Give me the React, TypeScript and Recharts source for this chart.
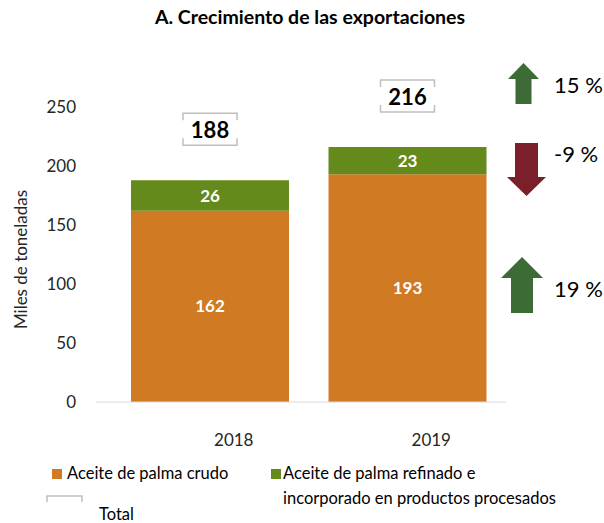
import { Bar, BarChart, LabelList, XAxis, YAxis } from "recharts";

document.body.style.margin = "0";

const years = ["2018", "2019"];
const crudo = [162, 193];
const refinado = [26, 23];
const yTicks = [0, 50, 100, 150, 200, 250];
// growth annotations on the right: total, refinado, crudo
const growthLabels = ["15 %", "-9 %", "19 %"];

const data = years.map((year, i) => ({
  year,
  crudo: crudo[i],
  refinado: refinado[i],
  total: crudo[i] + refinado[i],
}));

const FONT = "Lato, 'Open Sans', sans-serif";
const ORANGE = "#D07A24";
const GREEN = "#648A1C";
const BOX = "#BFBFBF";

const TotalLabel = (props: any) => {
  const { x, y, width, value } = props;
  const cx = x + width / 2;
  const bw = 54;
  const bh = 32;
  const top = y - 67;
  const left = cx - bw / 2;
  return (
    <g>
      <path
        d={`M${left},${top + 7} V${top} H${left + bw} V${top + 7} M${left},${top + bh - 7} V${top + bh} H${left + bw} V${top + bh - 7}`}
        fill="none"
        stroke={BOX}
        strokeWidth={1.5}
      />
      <text
        x={cx}
        y={top + bh / 2}
        textAnchor="middle"
        dominantBaseline="central"
        fontFamily={FONT}
        fontWeight={700}
        fontSize={22}
        fill="#000"
      >
        {value}
      </text>
    </g>
  );
};

const Arrow = ({ x, y, w, h, head, shaft, up, color }: any) => {
  const cx = x + w / 2;
  const s = shaft / 2;
  const d = up
    ? `M${cx},${y} L${x + w},${y + head} L${cx + s},${y + head} L${cx + s},${y + h} L${cx - s},${y + h} L${cx - s},${y + head} L${x},${y + head} Z`
    : `M${cx},${y + h} L${x + w},${y + h - head} L${cx + s},${y + h - head} L${cx + s},${y} L${cx - s},${y} L${cx - s},${y + h - head} L${x},${y + h - head} Z`;
  return <path d={d} fill={color} />;
};

export default function App() {
  return (
    <div style={{ position: "relative", width: 604, height: 523, fontFamily: FONT, background: "#fff" }}>
      <div
        style={{
          position: "absolute",
          top: 5,
          left: 0,
          width: 620,
          textAlign: "center",
          fontSize: 19.5,
          fontWeight: 700,
          color: "#000",
        }}
      >
        A. Crecimiento de las exportaciones
      </div>
      <BarChart
        width={604}
        height={523}
        data={data}
        margin={{ top: 107, right: 98, bottom: 81, left: 0 }}
      >
        <XAxis
          dataKey="year"
          padding={{ left: 15, right: 0 }}
          axisLine={{ stroke: "#D9D9D9" }}
          tickLine={false}
          height={40}
          tick={{ fill: "#262626", fontSize: 17, fontFamily: FONT, dx: 24, dy: 24 }}
        />
        <YAxis
          domain={[0, 250]}
          ticks={yTicks}
          width={96}
          axisLine={false}
          tickLine={false}
          tickMargin={14}
          tick={{ fill: "#262626", fontSize: 17, fontFamily: FONT }}
          label={{
            value: "Miles de toneladas",
            angle: -90,
            position: "insideLeft",
            dx: 16,
            dy: 5,
            style: { fill: "#262626", fontSize: 17, fontFamily: FONT, textAnchor: "middle" },
          }}
        />
        <Bar dataKey="crudo" stackId="a" fill={ORANGE} barSize={158} isAnimationActive={false}>
          <LabelList
            dataKey="crudo"
            position="center"
            fill="#fff"
            fontSize={17}
            fontWeight={700}
            fontFamily={FONT}
          />
        </Bar>
        <Bar dataKey="refinado" stackId="a" fill={GREEN} barSize={158} isAnimationActive={false}>
          <LabelList
            dataKey="refinado"
            position="center"
            fill="#fff"
            fontSize={17}
            fontWeight={700}
            fontFamily={FONT}
          />
          <LabelList dataKey="total" content={TotalLabel} />
        </Bar>
      </BarChart>
      <svg
        width={604}
        height={523}
        style={{ position: "absolute", left: 0, top: 0, pointerEvents: "none" }}
      >
        <Arrow x={508} y={63} w={31} h={41} head={16} shaft={16} up color="#3D6B35" />
        <Arrow x={507} y={143} w={39} h={53} head={19} shaft={23} up={false} color="#7B1F2A" />
        <Arrow x={501} y={257} w={42} h={56} head={21} shaft={22} up color="#3D6B35" />
        {growthLabels.map((t, i) => (
          <text
            key={t}
            x={554}
            y={[84, 153, 288][i]}
            dominantBaseline="central"
            fontFamily={FONT}
            fontSize={22}
            fill="#000"
          >
            {t}
          </text>
        ))}
      </svg>
      <div style={{ position: "absolute", left: 0, top: 0, fontSize: 16.5, color: "#000" }}>
        <div style={{ position: "absolute", left: 52, top: 469, width: 10, height: 10, background: ORANGE }} />
        <div style={{ position: "absolute", left: 67, top: 463, whiteSpace: "nowrap" }}>
          Aceite de palma crudo
        </div>
        <div style={{ position: "absolute", left: 271, top: 469, width: 10, height: 10, background: GREEN }} />
        <div style={{ position: "absolute", left: 283, top: 463, whiteSpace: "nowrap", lineHeight: "25px", marginTop: -2 }}>
          Aceite de palma refinado e
          <br />
          incorporado en productos procesados
        </div>
        <svg style={{ position: "absolute", left: 46, top: 495 }} width={38} height={30}>
          <path d="M1,7 V1 H36 V7" fill="none" stroke={BOX} strokeWidth={1.5} />
        </svg>
        <div style={{ position: "absolute", left: 99, top: 504, whiteSpace: "nowrap" }}>Total</div>
      </div>
    </div>
  );
}
